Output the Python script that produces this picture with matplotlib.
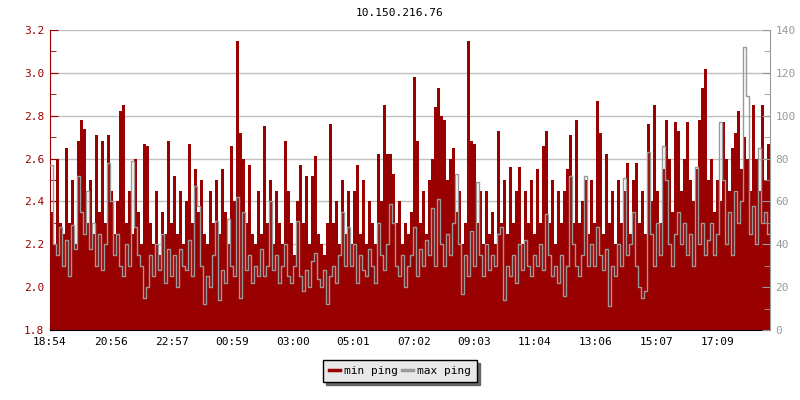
import numpy as np
import matplotlib
matplotlib.use("Agg")
import matplotlib.pyplot as plt

#%% data (one point every 6 minutes)

title = "10.150.216.76"
tick_labels = ["18:54", "20:56", "22:57", "00:59", "03:00", "05:01",
               "07:02", "09:03", "11:04", "13:06", "15:07", "17:09"]
step_min = 6

# min ping, left axis (ms)
min_ping = [
    2.35, 2.2, 2.6, 2.3, 2.25, 2.65, 2.3, 2.5, 2.2, 2.68,
    2.78, 2.74, 2.3, 2.5, 2.25, 2.71, 2.35, 2.68, 2.3, 2.71,
    2.45, 2.25, 2.4, 2.82, 2.85, 2.3, 2.45, 2.25, 2.6, 2.35,
    2.2, 2.67, 2.66, 2.3, 2.2, 2.45, 2.15, 2.35, 2.25, 2.68,
    2.3, 2.52, 2.25, 2.45, 2.2, 2.4, 2.67, 2.3, 2.55, 2.35,
    2.5, 2.25, 2.2, 2.45, 2.3, 2.5, 2.25, 2.55, 2.35, 2.2,
    2.66, 2.4, 3.15, 2.72, 2.6, 2.3, 2.57, 2.25, 2.2, 2.45,
    2.25, 2.75, 2.3, 2.5, 2.2, 2.45, 2.3, 2.2, 2.68, 2.45,
    2.3, 2.15, 2.4, 2.57, 2.3, 2.52, 2.2, 2.52, 2.61, 2.25,
    2.2, 2.15, 2.3, 2.76, 2.3, 2.4, 2.2, 2.5, 2.25, 2.45,
    2.2, 2.45, 2.57, 2.25, 2.5, 2.2, 2.4, 2.3, 2.2, 2.62,
    2.4, 2.85, 2.62, 2.62, 2.53, 2.3, 2.4, 2.2, 2.3, 2.25,
    2.35, 2.98, 2.68, 2.3, 2.45, 2.25, 2.5, 2.6, 2.84, 2.93,
    2.8, 2.78, 2.5, 2.6, 2.65, 2.35, 2.45, 2.2, 2.3, 3.15,
    2.68, 2.67, 2.3, 2.45, 2.2, 2.45, 2.25, 2.35, 2.2, 2.73,
    2.3, 2.5, 2.25, 2.56, 2.3, 2.45, 2.56, 2.2, 2.45, 2.3,
    2.5, 2.25, 2.55, 2.3, 2.66, 2.73, 2.3, 2.5, 2.2, 2.45,
    2.3, 2.45, 2.55, 2.71, 2.3, 2.78, 2.3, 2.4, 2.5, 2.25,
    2.5, 2.3, 2.87, 2.72, 2.25, 2.62, 2.3, 2.45, 2.2, 2.5,
    2.3, 2.45, 2.58, 2.25, 2.5, 2.58, 2.3, 2.45, 2.25, 2.76,
    2.4, 2.85, 2.45, 2.3, 2.55, 2.78, 2.6, 2.35, 2.77, 2.73,
    2.45, 2.6, 2.77, 2.5, 2.4, 2.55, 2.78, 2.93, 3.02, 2.5,
    2.6, 2.35, 2.5, 2.4, 2.77, 2.6, 2.45, 2.65, 2.72, 2.82,
    2.55, 2.7, 2.6, 2.45, 2.85, 2.6, 2.45, 2.85, 2.5, 2.67,
]

# max ping, right axis (ms)
max_ping = [
    77, 40, 35, 48, 30, 42, 25, 49, 38, 72,
    55, 45, 65, 38, 50, 30, 45, 28, 40, 78,
    60, 35, 45, 30, 25, 40, 30, 79, 48, 35,
    30, 15, 20, 35, 25, 40, 28, 45, 22, 38,
    25, 35, 20, 38, 30, 28, 42, 25, 67, 58,
    30, 12, 25, 20, 35, 51, 14, 28, 22, 52,
    30, 25, 62, 15, 55, 28, 35, 22, 30, 25,
    38, 25, 30, 60, 28, 35, 22, 30, 40, 25,
    22, 30, 51, 25, 18, 28, 20, 32, 36, 24,
    20, 28, 12, 25, 30, 22, 35, 55, 30, 48,
    30, 40, 22, 35, 28, 25, 38, 30, 22, 50,
    35, 28, 40, 59, 50, 30, 25, 35, 20, 30,
    35, 48, 25, 38, 30, 42, 35, 57, 30, 61,
    40, 30, 45, 35, 50, 73, 40, 17, 35, 25,
    46, 30, 69, 35, 25, 40, 28, 35, 30, 45,
    48, 14, 30, 25, 35, 22, 40, 28, 42, 30,
    25, 35, 30, 40, 28, 54, 35, 25, 30, 22,
    35, 16, 30, 72, 40, 30, 25, 35, 72, 30,
    40, 30, 48, 35, 28, 38, 11, 30, 25, 40,
    30, 71, 35, 40, 55, 30, 20, 15, 18, 83,
    45, 30, 50, 35, 86, 70, 40, 30, 45, 55,
    40, 50, 35, 45, 30, 76, 40, 50, 35, 42,
    50, 35, 45, 97, 70, 40, 55, 35, 65, 50,
    60, 132, 109, 45, 58, 40, 85, 50, 55, 45,
]

#%% figure

red = "#990000"
grey = "#999999"
mono = "DejaVu Sans Mono"
plt.rcParams["font.family"] = mono
plt.rcParams["font.size"] = 8

def minutes(label):
    h, m = map(int, label.split(":"))
    t = (h * 60 + m) - (18 * 60 + 54)
    return t % 1440

x = np.arange(len(min_ping)) * step_min
x_end = len(min_ping) * step_min
xx = np.append(x, x_end)
ymin = np.append(min_ping, min_ping[-1])
ymax = np.append(max_ping, max_ping[-1])

fig = plt.figure(figsize=(8, 4), dpi=100)
ax = fig.add_axes([50 / 800, 70 / 400, 720 / 800, 300 / 400])
ax2 = ax.twinx()

ax.set_axisbelow(True)
ax.yaxis.grid(True, color="#c0c0c0", linewidth=1)
ax.fill_between(xx, 1.8, ymin, step="post", color=red, linewidth=0)
ax2.step(xx, ymax, where="post", color=grey, linewidth=1)

ax.set_xlim(0, 1440)
ax.set_ylim(1.8, 3.2)
ax2.set_ylim(0, 140)

ax.set_yticks(np.arange(1.8, 3.21, 0.2))
ax.set_yticklabels(["%.1f" % v for v in np.arange(1.8, 3.21, 0.2)])
ax.set_yticks(np.arange(1.9, 3.2, 0.2), minor=True)
ax2.set_yticks(np.arange(0, 141, 20))
ax2.set_yticks(np.arange(10, 140, 20), minor=True)
ax.set_xticks([minutes(l) for l in tick_labels])
ax.set_xticklabels(tick_labels)

ax.tick_params(axis="y", which="both", direction="in", colors=red, labelcolor=red, length=4, pad=4)
ax.tick_params(axis="y", which="major", length=6)
ax.tick_params(axis="x", direction="in", length=4, pad=5, colors="black")
ax2.tick_params(axis="y", which="both", direction="in", colors=grey, labelcolor=grey, length=4, pad=4)
ax2.tick_params(axis="y", which="major", length=6)

for a in (ax, ax2):
    a.spines["top"].set_visible(False)
ax.spines["left"].set_color(red)
ax2.spines["left"].set_visible(False)
ax2.spines["bottom"].set_visible(False)
ax2.spines["right"].set_color(grey)
ax.spines["right"].set_visible(False)
ax.spines["bottom"].set_color("black")

fig.text(0.5, 1 - 13 / 400, title, ha="center", va="center", fontsize=8)

h1, = ax.plot([], [], color=red, linewidth=2.5, label="min ping")
h2, = ax.plot([], [], color=grey, linewidth=2.5, label="max ping")
leg = fig.legend(handles=[h1, h2], loc="center", bbox_to_anchor=(0.5, 1 - 371 / 400),
                 ncol=2, frameon=True, fancybox=False, framealpha=1,
                 facecolor="#e8e8e8", edgecolor="black",
                 shadow={"color": "0.4", "alpha": 1},
                 handlelength=1.0, handletextpad=0.3, columnspacing=0.4,
                 borderpad=0.55, fontsize=8)
leg.get_frame().set_linewidth(1)

fig.savefig("out.png", dpi=100)
